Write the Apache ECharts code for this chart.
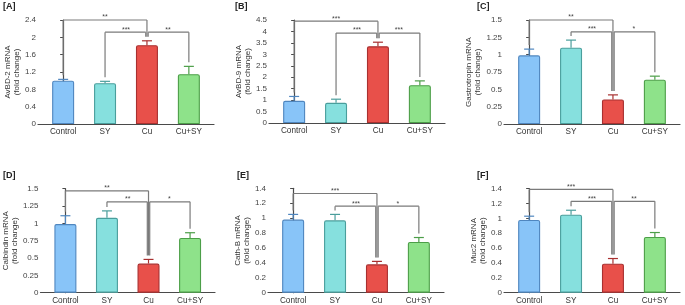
<!DOCTYPE html>
<html><head><meta charset="utf-8">
<script src="https://cdn.jsdelivr.net/npm/echarts@6/dist/echarts.min.js"></script>
<style>html,body{margin:0;padding:0;background:#fff}#c{width:685px;height:305px}</style>
</head><body><div id="c"></div>
<script>
// ---- data ----
const categories = ['Control', 'SY', 'Cu', 'Cu+SY'];

const avbd2Mean = [1.00, 0.94, 1.82, 1.15];
const avbd2Err  = [0.03, 0.045, 0.10, 0.18];
const avbd9Mean = [0.97, 0.88, 3.35, 1.65];
const avbd9Err  = [0.19, 0.16, 0.18, 0.19];
const gastroMean = [0.99, 1.10, 0.355, 0.64];
const gastroErr  = [0.09, 0.11, 0.065, 0.05];
const calbMean = [0.99, 1.08, 0.42, 0.79];
const calbErr  = [0.12, 0.10, 0.06, 0.075];
const cathMean = [0.98, 0.97, 0.38, 0.68];
const cathErr  = [0.07, 0.08, 0.04, 0.06];
const muc2Mean = [0.98, 1.05, 0.39, 0.75];
const muc2Err  = [0.05, 0.06, 0.07, 0.06];

const panelLabels = ['[A]', '[B]', '[C]', '[D]', '[E]', '[F]'];
const yNames = ['AvBD-2 mRNA\n(fold change)', 'AvBD-9 mRNA\n(fold change)', 'Gastrotropin mRNA\n(fold change)',
                'Calbindin mRNA\n(fold change)', 'Cath-B mRNA\n(fold change)', 'Muc2 mRNA\n(fold change)'];
const yMax  = [2.4, 4.5, 1.5, 1.5, 1.4, 1.4];
const yStep = [0.4, 0.5, 0.25, 0.25, 0.2, 0.2];

const bracketPairs = [[0, 2], [1, 2], [2, 3]];
const bracketLevels = [[2.4, 2.12, 2.12], [4.45, 3.93, 3.93], [1.5, 1.33, 1.33],
                       [1.47, 1.31, 1.31], [1.33, 1.16, 1.16], [1.39, 1.23, 1.23]];
const bracketStars = [['**', '***', '**'], ['***', '***', '***'], ['**', '***', '*'],
                      ['**', '**', '*'], ['***', '***', '*'], ['***', '***', '**']];

const means = [avbd2Mean, avbd9Mean, gastroMean, calbMean, cathMean, muc2Mean];
const errs  = [avbd2Err, avbd9Err, gastroErr, calbErr, cathErr, muc2Err];

// ---- style / layout ----
const fills   = ['#88c4f8', '#86e0de', '#e8504a', '#8ee28a'];
const borders = ['#4f86bf', '#4a9e9c', '#a83030', '#4c9e48'];
const grids = [
  {left: 38, top: 20, width: 176, height: 104},
  {left: 269, top: 20, width: 176, height: 103},
  {left: 504, top: 20, width: 176, height: 104},
  {left: 39, top: 188.7, width: 176, height: 104},
  {left: 268, top: 188.3, width: 176, height: 104.4},
  {left: 504, top: 188.7, width: 176, height: 104}
];
const nameGaps = [16, 16, 19, 20, 16, 16];
const titlePos = [[3, 2], [235, 2], [477, 2], [3, 171], [237, 171], [477, 171]];
const FONT = 'Liberation Sans, Arial, sans-serif';

const option = {
  animation: false,
  backgroundColor: '#fff',
  title: panelLabels.map((t, i) => ({
    text: t, left: titlePos[i][0], top: titlePos[i][1], padding: 0,
    textStyle: {fontSize: 9, fontWeight: 'bold', color: '#222', fontFamily: FONT}
  })),
  grid: grids,
  xAxis: grids.map((g, i) => ({
    type: 'value', gridIndex: i, min: -0.6, max: 3.6,
    splitLine: {show: false},
    axisLine: {show: true, lineStyle: {color: '#4a4a4a', width: 1.2}},
    axisTick: {show: false},
    axisLabel: {
      customValues: [0, 1, 2, 3],
      formatter: v => categories[Math.round(v)] || '',
      fontSize: 8.2, color: '#333', margin: 4, fontFamily: FONT
    }
  })),
  yAxis: grids.map((g, i) => ({
    type: 'value', gridIndex: i, min: 0, max: yMax[i], interval: yStep[i],
    name: yNames[i], nameLocation: 'middle', nameGap: nameGaps[i],
    nameTextStyle: {fontSize: 8, lineHeight: 9, color: '#333', fontFamily: FONT},
    splitLine: {show: false},
    axisLine: {show: true, lineStyle: {color: '#4a4a4a', width: 1.2}},
    axisTick: {show: true, length: 3, lineStyle: {color: '#4a4a4a', width: 1}},
    axisLabel: {fontSize: 8, color: '#444', margin: 2, fontFamily: FONT}
  })),
  series: []
};

means.forEach((m, p) => {
  const e = errs[p];
  option.series.push({
    type: 'bar', xAxisIndex: p, yAxisIndex: p, barWidth: 22,
    data: m.map((v, i) => ({
      value: [i, v],
      itemStyle: {color: fills[i], borderColor: borders[i], borderWidth: 1.1, borderRadius: [1.5, 1.5, 0, 0]}
    }))
  });
  option.series.push({
    type: 'custom', xAxisIndex: p, yAxisIndex: p, z: 5, clip: false,
    data: m.map((v, i) => [i, v, e[i]]),
    renderItem: (params, api) => {
      const x = api.value(0), v = api.value(1), er = api.value(2);
      const p0 = api.coord([x, v]), p1 = api.coord([x, v + er]);
      const col = borders[Math.round(x)];
      return {type: 'group', children: [
        {type: 'line', shape: {x1: p0[0], y1: p0[1], x2: p1[0], y2: p1[1]}, style: {stroke: col, lineWidth: 1.2}},
        {type: 'line', shape: {x1: p1[0] - 5, y1: p1[1], x2: p1[0] + 5, y2: p1[1]}, style: {stroke: col, lineWidth: 1.2}}
      ]};
    }
  });
  option.series.push({
    type: 'custom', xAxisIndex: p, yAxisIndex: p, z: 6, clip: false,
    data: bracketPairs.map((pr, k) => [pr[0], pr[1], bracketLevels[p][k],
                                        m[pr[0]] + e[pr[0]], m[pr[1]] + e[pr[1]], k]),
    renderItem: (params, api) => {
      const a = api.value(0), b = api.value(1), lvl = api.value(2);
      const t1 = api.value(3), t2 = api.value(4), k = api.value(5);
      const pa = api.coord([a, lvl]), pb = api.coord([b, lvl]);
      const ea = api.coord([a, t1]), eb = api.coord([b, t2]);
      const offA = (k === 2) ? 1.2 : 0, offB = (k === 1) ? -1.2 : 0;
      const xa = pa[0] + offA, xb = pb[0] + offB;
      const st = {stroke: '#7a7a7a', lineWidth: 1.2};
      return {type: 'group', children: [
        {type: 'line', shape: {x1: xa, y1: pa[1], x2: xb, y2: pb[1]}, style: st},
        {type: 'line', shape: {x1: xa, y1: pa[1], x2: xa, y2: ea[1] - 4}, style: st},
        {type: 'line', shape: {x1: xb, y1: pb[1], x2: xb, y2: eb[1] - 4}, style: st},
        {type: 'text', style: {text: bracketStars[p][k], x: (pa[0] + pb[0]) / 2, y: pa[1] + 1,
          textAlign: 'center', textVerticalAlign: 'bottom', fill: '#444', font: '7px ' + FONT}}
      ]};
    }
  });
});

const chart = echarts.init(document.getElementById('c'), null, {renderer: 'canvas'});
chart.setOption(option);
</script></body></html>
